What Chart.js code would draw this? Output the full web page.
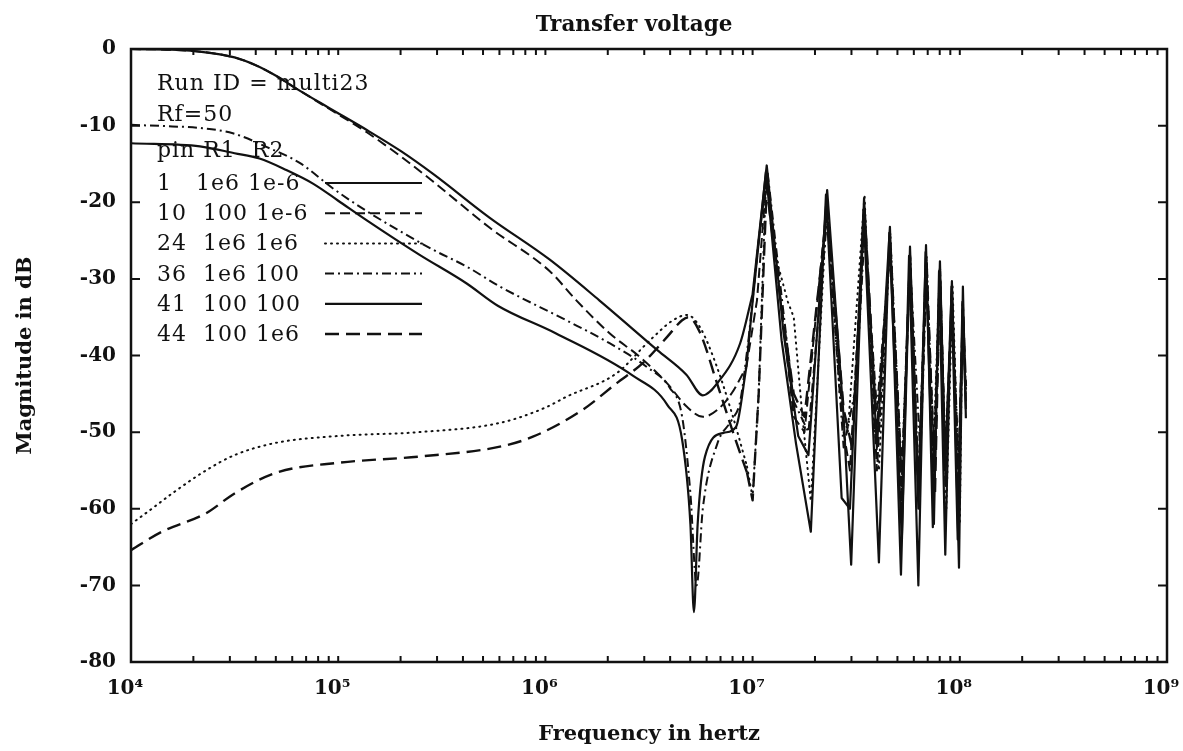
<!DOCTYPE html>
<html>
<head>
<meta charset="utf-8">
<title>Transfer voltage</title>
<script src="https://cdn.jsdelivr.net/npm/chart.js@4.4.1/dist/chart.umd.min.js"></script>
<style>
  html, body { margin: 0; padding: 0; background: #fff; }
  #wrap { width: 1183px; height: 751px; position: relative; }
</style>
</head>
<body>
<div id="wrap"><canvas id="c"></canvas></div>
<script>
// Axis ticks and labels
const xDecades = [1e4, 1e5, 1e6, 1e7, 1e8, 1e9];
const xDecadeLabels = ['10⁴', '10⁵', '10⁶', '10⁷', '10⁸', '10⁹'];
const xMinorSteps = [1, 2, 3, 4, 5, 6, 7, 8, 9];
const yTickValues = [0, -10, -20, -30, -40, -50, -60, -70, -80];

// Legend header and rows
const headerLines = ['Run ID = multi23', 'Rf=50', 'pin R1  R2'];
const legendLabels = ['1   1e6 1e-6', '10  100 1e-6', '24  1e6 1e6', '36  1e6 100', '41  100 100', '44  100 1e6'];

// pin 1, R1=1e6, R2=1e-6
const freq1 = [1e4, 1.58e4, 2.24e4, 3.16e4, 3.98e4, 5.01e4, 6.31e4, 8.91e4, 1.38e5, 2.0e5, 2.87e5, 5.37e5, 1.05e6, 1.82e6, 3.47e6, 4.79e6, 5.75e6, 6.76e6, 8.71e6, 1e7, 1.17e7, 1.41e7, 1.66e7, 1.86e7, 2.29e7, 2.75e7, 2.99e7, 3.45e7, 3.98e7, 4.6e7, 5.2e7, 5.75e7, 6.31e7, 6.87e7, 7.41e7, 8.02e7, 8.51e7, 9.16e7, 9.91e7, 1.035e8, 1.07e8];
const mag1  = [0, -0.1, -0.4, -1.1, -2.1, -3.5, -5.2, -7.6, -10.6, -13.3, -16.3, -22, -27.5, -32.8, -39.3, -42.5, -45.2, -43.6, -38.4, -32, -15.2, -37, -50.5, -53, -18.4, -48, -67.3, -19.5, -52, -23.2, -68.6, -25.8, -60, -25.6, -62.4, -27.7, -55, -30.3, -67.7, -31, -48.2];

// pin 10, R1=100, R2=1e-6
const freq2 = [1e4, 1.58e4, 2.24e4, 3.16e4, 3.98e4, 5.01e4, 6.31e4, 8.91e4, 1.38e5, 2.0e5, 2.87e5, 5.37e5, 1.05e6, 1.41e6, 2.04e6, 2.86e6, 3.86e6, 4.82e6, 5.77e6, 6.76e6, 7.94e6, 9.33e6, 1.05e7, 1.17e7, 1.38e7, 1.58e7, 1.78e7, 2.29e7, 2.75e7, 2.95e7, 3.47e7, 3.98e7, 4.6e7, 5.25e7, 5.75e7, 6.31e7, 6.87e7, 7.41e7, 8.02e7, 8.51e7, 9.16e7, 9.77e7, 1.035e8, 1.07e8];
const mag2  = [0, -0.1, -0.4, -1.1, -2.1, -3.5, -5.2, -7.7, -10.9, -14, -17.3, -23.3, -29, -32.8, -37.1, -40.2, -43.6, -46.7, -48, -47.1, -44.9, -41.5, -32.8, -16.5, -34, -48, -50, -20, -50, -55, -21, -55, -24.5, -60, -27, -58, -27, -57, -29, -57, -31.5, -58, -33, -46];

// pin 24, R1=1e6, R2=1e6
const freq3 = [1e4, 1.26e4, 1.58e4, 2.3e4, 3.16e4, 5.01e4, 1e5, 2.45e5, 6.03e5, 1e6, 1.26e6, 2.21e6, 3.2e6, 4.13e6, 4.82e6, 5.57e6, 6.73e6, 8.04e6, 9.4e6, 1e7, 1.07e7, 1.15e7, 1.17e7, 1.32e7, 1.48e7, 1.58e7, 1.74e7, 1.91e7, 2.04e7, 2.29e7, 2.63e7, 2.88e7, 3.47e7, 3.8e7, 4.07e7, 4.62e7, 5.25e7, 5.75e7, 6.31e7, 6.92e7, 7.41e7, 8.02e7, 8.61e7, 9.23e7, 1e8, 1.03e8, 1.07e8];
const mag3  = [-62, -60, -58, -55, -53, -51.4, -50.5, -50, -48.8, -46.8, -45.4, -42.3, -38, -35.4, -34.7, -36.3, -41.5, -48, -54.5, -58.5, -45, -20, -17, -28, -33, -35, -48, -59, -45, -20, -45, -50, -19, -47, -55, -24, -58, -26.5, -56, -27, -55, -28, -60, -31, -62, -33, -45];

// pin 36, R1=1e6, R2=100
const freq4 = [1e4, 1.58e4, 2.15e4, 3.1e4, 4.53e4, 6.55e4, 9.44e4, 1.38e5, 2.0e5, 2.87e5, 4.17e5, 6.03e5, 1.26e6, 2.04e6, 3.09e6, 3.98e6, 4.57e6, 5.01e6, 5.37e6, 5.75e6, 6.76e6, 7.94e6, 8.71e6, 9.55e6, 1.07e7, 1.18e7, 1.35e7, 1.58e7, 1.86e7, 2.29e7, 2.75e7, 3.16e7, 3.47e7, 3.98e7, 4.62e7, 5.25e7, 5.75e7, 6.46e7, 6.92e7, 7.59e7, 8.04e7, 8.51e7, 9.2e7, 9.89e7, 1.035e8, 1.07e8];
const mag4  = [-9.9, -10.1, -10.3, -11, -12.8, -14.9, -18.2, -21.2, -23.8, -26.2, -28.4, -31, -35.4, -38.4, -41.5, -44.2, -48, -58, -70, -60, -51.5, -48.4, -46, -38, -25, -16, -30, -46, -50, -22, -52, -44, -24, -47, -26, -55, -28, -53, -29, -55, -30, -52, -33, -55, -35, -45];

// pin 41, R1=100, R2=100
const freq5 = [1e4, 2.15e4, 3.16e4, 4.17e4, 5.62e4, 7.59e4, 1e5, 1.38e5, 2.45e5, 4.17e5, 5.89e5, 1.12e6, 2.63e6, 3.89e6, 4.57e6, 5.01e6, 5.21e6, 5.43e6, 5.89e6, 7.24e6, 8.32e6, 9.33e6, 1e7, 1.16e7, 1.38e7, 1.62e7, 1.91e7, 2.26e7, 2.69e7, 2.95e7, 3.43e7, 4.07e7, 4.57e7, 5.25e7, 5.69e7, 6.31e7, 6.84e7, 7.5e7, 7.94e7, 8.51e7, 9.12e7, 9.77e7, 1.03e8, 1.07e8];
const mag5  = [-12.3, -12.7, -13.6, -14.3, -15.8, -17.6, -19.8, -22.4, -26.8, -30.6, -33.5, -37.1, -42.6, -46.5, -51, -62, -73.5, -62, -53.2, -50.1, -49.3, -41.5, -33, -16, -38, -51.5, -63, -19, -58.6, -60, -21, -67, -24, -64, -27, -70, -26.5, -62, -29, -66, -31, -64, -33, -47];

// pin 44, R1=100, R2=1e6
const freq6 = [1e4, 1.41e4, 2.3e4, 3.16e4, 5.01e4, 1e5, 2.45e5, 6.03e5, 8.7e5, 1.51e6, 2.21e6, 2.95e6, 3.86e6, 4.57e6, 4.9e6, 5.57e6, 6.73e6, 8.04e6, 9.4e6, 1e7, 1.07e7, 1.17e7, 1.32e7, 1.58e7, 1.78e7, 2.29e7, 2.75e7, 3.02e7, 3.47e7, 3.98e7, 4.62e7, 5.25e7, 5.75e7, 6.31e7, 6.92e7, 7.59e7, 8.02e7, 8.51e7, 9.16e7, 9.89e7, 1.035e8, 1.07e8];
const mag6  = [-65.4, -63, -60.6, -58, -55.3, -54, -53.2, -51.9, -50.6, -47.1, -43.6, -41, -37.6, -35.4, -35, -37, -43.6, -50, -55.3, -58.9, -45, -18, -30, -45, -48, -21, -47, -52, -21, -50, -25, -57, -27, -57, -28, -58, -29, -55, -32, -58, -34, -44];

// Above this frequency the sweep is sparse, so it is joined with straight segments
const RESONANCE_START = 9e6;

const INK = '#111';
const SERIF = '"DejaVu Serif", "Liberation Serif", serif';

const styles = [
  { dash: [], width: 2.2, cap: 'butt' },
  { dash: [10, 5], width: 2, cap: 'butt' },
  { dash: [1, 5], width: 2, cap: 'round' },
  { dash: [9, 4, 2, 4], width: 2, cap: 'butt' },
  { dash: [], width: 2.2, cap: 'butt' },
  { dash: [14, 7], width: 2.4, cap: 'butt' }
];
const freqs = [freq1, freq2, freq3, freq4, freq5, freq6];
const mags = [mag1, mag2, mag3, mag4, mag5, mag6];

function lineStyle(i) {
  return {
    borderColor: INK,
    borderWidth: styles[i].width,
    borderDash: styles[i].dash,
    borderCapStyle: styles[i].cap,
    borderJoinStyle: 'round',
    pointRadius: 0,
    fill: false
  };
}

const smoothParts = [];
const sharpParts = [];
freqs.forEach((f, i) => {
  const pts = f.map((v, k) => ({ x: v, y: mags[i][k] }));
  const cut = f.findIndex(v => v >= RESONANCE_START);
  smoothParts.push(Object.assign({
    label: legendLabels[i],
    inKey: true,
    data: pts.slice(0, cut + 1),
    cubicInterpolationMode: 'monotone'
  }, lineStyle(i)));
  sharpParts.push(Object.assign({
    label: legendLabels[i],
    inKey: false,
    data: pts.slice(cut),
    tension: 0
  }, lineStyle(i)));
});
const datasets = smoothParts.concat(sharpParts);

// Closed frame with inward tick marks on all four sides
const framePlugin = {
  id: 'frame',
  afterDatasetsDraw(chart) {
    const { ctx, chartArea: a, scales: { x, y } } = chart;
    ctx.save();
    ctx.strokeStyle = INK;
    ctx.lineWidth = 2;
    ctx.beginPath();
    x.ticks.forEach(t => {
      const px = x.getPixelForValue(t.value);
      if (px <= a.left + 1 || px >= a.right - 1) return;
      ctx.moveTo(px, a.bottom); ctx.lineTo(px, a.bottom - 6);
      ctx.moveTo(px, a.top); ctx.lineTo(px, a.top + 6);
    });
    y.ticks.forEach(t => {
      const py = y.getPixelForValue(t.value);
      if (py <= a.top + 1 || py >= a.bottom - 1) return;
      ctx.moveTo(a.left, py); ctx.lineTo(a.left + 9, py);
      ctx.moveTo(a.right, py); ctx.lineTo(a.right - 9, py);
    });
    ctx.stroke();
    ctx.lineWidth = 2.5;
    ctx.strokeRect(a.left, a.top, a.right - a.left, a.bottom - a.top);
    ctx.restore();
  }
};

// Title above the frame and the in-plot key with line samples
const notesPlugin = {
  id: 'notes',
  afterDraw(chart) {
    const { ctx, chartArea: a } = chart;
    ctx.save();
    ctx.fillStyle = INK;
    ctx.font = 'bold 21.5px ' + SERIF;
    ctx.textAlign = 'center';
    ctx.textBaseline = 'middle';
    ctx.fillText('Transfer voltage', (a.left + a.right) / 2 - 15, 25);

    ctx.font = '22px ' + SERIF;
    if ('letterSpacing' in ctx) ctx.letterSpacing = '1px';
    ctx.textAlign = 'left';
    ctx.textBaseline = 'alphabetic';
    const tx = a.left + 26;
    const headerY = [41, 72, 108];
    headerLines.forEach((s, i) => ctx.fillText(s, tx, a.top + headerY[i]));
    chart.data.datasets.filter(ds => ds.inKey).forEach((ds, i) => {
      const base = a.top + 141 + i * 30.2;
      ctx.fillText(ds.label, tx, base);
      ctx.save();
      ctx.strokeStyle = INK;
      ctx.lineWidth = ds.borderWidth;
      ctx.setLineDash(ds.borderDash);
      ctx.lineCap = ds.borderCapStyle;
      ctx.beginPath();
      ctx.moveTo(a.left + 194, base - 7);
      ctx.lineTo(a.left + 291, base - 7);
      ctx.stroke();
      ctx.restore();
    });
    ctx.restore();
  }
};

new Chart(document.getElementById('c'), {
  type: 'line',
  data: { datasets },
  options: {
    responsive: true,
    maintainAspectRatio: false,
    animation: false,
    layout: { padding: { left: 9, right: 16, top: 49, bottom: 0 } },
    plugins: {
      legend: { display: false },
      title: { display: false },
      tooltip: { enabled: false }
    },
    scales: {
      x: {
        type: 'logarithmic',
        min: 1e4,
        max: 1e9,
        grid: { display: false },
        border: { display: false },
        afterBuildTicks(scale) {
          const ticks = [];
          xDecades.forEach((d, i) => {
            if (i === xDecades.length - 1) { ticks.push({ value: d }); return; }
            xMinorSteps.forEach(m => ticks.push({ value: d * m }));
          });
          scale.ticks = ticks;
        },
        afterFit(scale) {
          scale.height = 89;
          scale.paddingLeft = 0;
          scale.paddingRight = 0;
        },
        ticks: {
          autoSkip: false,
          maxRotation: 0,
          padding: 7,
          labelOffset: -6,
          color: INK,
          font: { family: SERIF, size: 20, weight: 'bold' },
          callback(value) {
            const i = xDecades.indexOf(value);
            return i >= 0 ? xDecadeLabels[i] : '';
          }
        },
        title: {
          display: true,
          text: 'Frequency in hertz',
          color: INK,
          font: { family: SERIF, size: 21, weight: 'bold' },
          padding: { top: 4, bottom: 4 }
        }
      },
      y: {
        min: -80,
        max: 0,
        grid: { display: false },
        border: { display: false },
        afterBuildTicks(scale) {
          scale.ticks = yTickValues.map(v => ({ value: v }));
        },
        afterFit(scale) {
          scale.width = 122;
        },
        ticks: {
          padding: 7,
          color: INK,
          font: { family: SERIF, size: 20, weight: 'bold' },
          callback(value) { return String(value); }
        },
        title: {
          display: true,
          text: 'Magnitude in dB',
          color: INK,
          font: { family: SERIF, size: 21, weight: 'bold' },
          padding: { top: 4, bottom: 4 }
        }
      }
    }
  },
  plugins: [framePlugin, notesPlugin]
});
</script>
</body>
</html>
